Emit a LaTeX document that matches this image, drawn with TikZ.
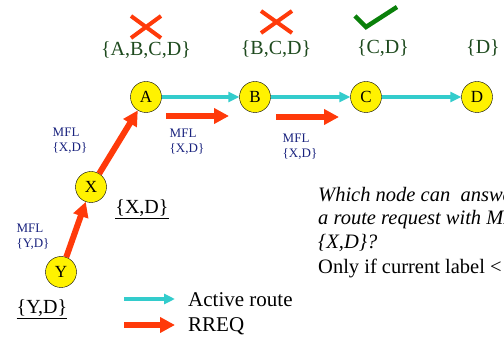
\documentclass[tikz,border=0pt]{standalone}
\usepackage{fontspec}
\setmainfont{Liberation Serif}
\usetikzlibrary{arrows.meta,positioning}
\definecolor{rreqred}{HTML}{FF3A0A}
\definecolor{routecyan}{HTML}{33CCCC}
\definecolor{setgreen}{HTML}{1E4A1E}
\definecolor{okgreen}{HTML}{0A800A}
\definecolor{mflblue}{HTML}{1A237E}
\tikzset{
  host/.style={circle,draw,fill=yellow,minimum size=31pt,inner sep=0pt,font=\fontsize{17}{17}\selectfont},
  route/.style={routecyan,line width=3.5pt,-{Triangle[length=11pt,width=10pt]}},
  rreq/.style={rreqred,line width=6pt,-{Triangle[length=15pt,width=15pt]}},
  setlabel/.style={setgreen,font=\fontsize{20}{20}\selectfont},
  mfl/.style={mflblue,align=left,font=\fontsize{13}{15}\selectfont,inner sep=0pt},
  big/.style={font=\fontsize{20}{20}\selectfont},
  keytext/.style={font=\fontsize{21}{21}\selectfont,anchor=west,inner sep=0pt},
  nope/.style={rreqred,line width=4pt}
}
\begin{document}
\begin{tikzpicture}[x=1pt,y=-1pt]
  \useasboundingbox (0,0) rectangle (504,339);
  \clip (0,0) rectangle (504,339);
  % hosts
  \node[host] (A) at (146,97) {A};
  \node[host] (B) at (255,97) {B};
  \node[host] (C) at (366,97) {C};
  \node[host] (D) at (477,97) {D};
  \node[host] (X) at (91,187) {X};
  \node[host] (Y) at (61,272) {Y};
  % labels
  \node[setlabel] (lA) at (146,50) {\{A,B,C,D\}};
  \node[setlabel] (lB) at (276,49) {\{B,C,D\}};
  \node[setlabel] (lC) at (383,48) {\{C,D\}};
  \node[setlabel] (lD) at (483,48) {\{D\}};
  \node[big] (lX) at (142,209) {\underline{\{X,D\}}};
  \node[big] (lY) at (42,309) {\underline{\{Y,D\}}};
  % marks
  \draw[nope] (131,16) -- (161,38) (161,16) -- (131,38);
  \draw[nope] (261,11) -- (292,33) (292,11) -- (261,33);
  \draw[okgreen,line width=4.5pt] (355,16) -- (366,27) -- (397,7);
  % active route
  \draw[route] (A) -- (B);
  \draw[route] (B) -- (C);
  \draw[route] (C) -- (D);
  % rreq
  \draw[rreq] (Y) -- (X);
  \draw[rreq] (X) -- (A);
  \coordinate (r1s) at (166,116);
  \coordinate (r1e) at (229,116);
  \coordinate (r2s) at (276,117);
  \coordinate (r2e) at (339,117);
  \draw[rreq] (r1s) -- (r1e);
  \draw[rreq] (r2s) -- (r2e);
  \node[mfl] (m1) at (70,141) {MFL\\\{X,D\}};
  \node[mfl] (m2) at (187,142) {MFL\\\{X,D\}};
  \node[mfl] (m3) at (300,147) {MFL\\\{X,D\}};
  \node[mfl] (m4) at (33,237) {MFL\\\{Y,D\}};
  % legend
  \coordinate (k1s) at (124,299);
  \coordinate (k1e) at (175,299);
  \coordinate (k2s) at (124,325);
  \coordinate (k2e) at (175,325);
  \draw[route] (k1s) -- (k1e);
  \draw[rreq] (k2s) -- (k2e);
  \node[keytext] (t1) at (188,300) {Active route};
  \node[keytext] (t2) at (188,326) {RREQ};
  % question
  \node[anchor=north west,align=left,inner sep=0pt,font=\fontsize{20.5}{23.5}\selectfont] (q) at (318,187)
    {\textit{Which node can\ \ answer}\\\textit{a route request with MFL}\\\textit{\{X,D\}?}\\[2pt]Only if current label < \{X,D\}};
\end{tikzpicture}
\end{document}
